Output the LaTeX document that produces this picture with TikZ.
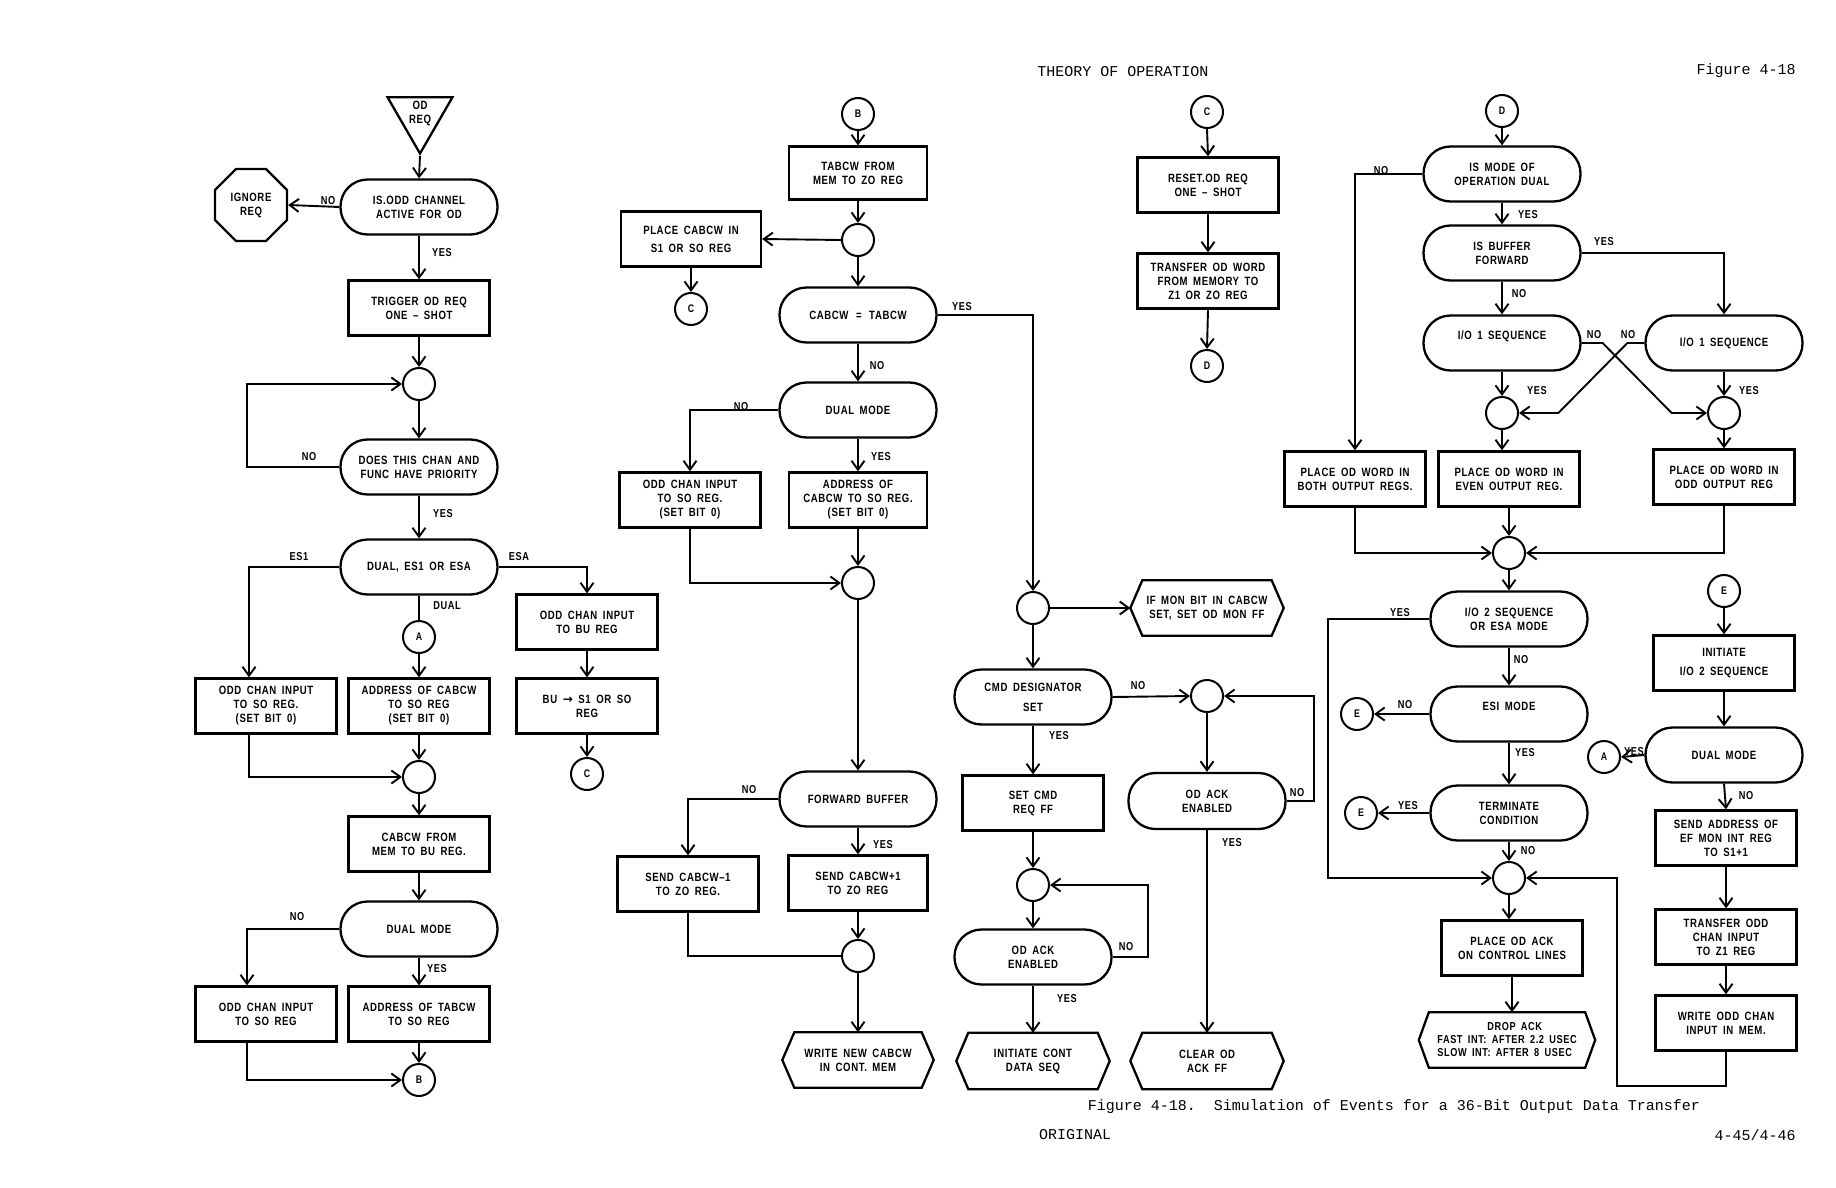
\documentclass[tikz,border=0pt]{standalone}
\usepackage{fontspec}
\setmainfont{Liberation Sans}
\newfontfamily\lfont[FakeStretch=0.8,LetterSpace=5,WordSpace=1.7]{Liberation Sans}
\newfontfamily\afont{DejaVu Sans}
\newfontfamily\cfont{Liberation Mono}
\usetikzlibrary{arrows.meta,shapes.geometric}
\newcommand\hexfr[2]{\draw[line width=2.3pt] ([xshift=#2]#1.north west) -- ([xshift=-#2]#1.north east) -- (#1.east) -- ([xshift=-#2]#1.south east) -- ([xshift=#2]#1.south west) -- (#1.west) -- cycle;}
\tikzset{
 box/.style={draw, line width=2.3pt, rectangle, minimum width=141pt, minimum height=55pt, align=center, inner sep=2pt, font=\lfont\bfseries\fontsize{12}{14}\selectfont},
 dec/.style={box, rounded corners=27pt, minimum width=157pt},
 conn/.style={draw, circle, line width=2pt, minimum size=32pt, inner sep=0pt, font=\lfont\bfseries\fontsize{11}{12}\selectfont},
 junc/.style={draw, circle, line width=2pt, minimum size=32pt, inner sep=0pt},
 hexa/.style={rectangle, minimum width=153pt, minimum height=55pt, align=center, inner sep=2pt, font=\lfont\bfseries\fontsize{12}{14}\selectfont},
 arr/.style={line width=1.9pt, -{Straight Barb[length=9pt,width=13pt,line width=1.9pt]}},
 ln/.style={line width=1.9pt},
 lab/.style={font=\lfont\bfseries\fontsize{11.5}{13}\selectfont, inner sep=0pt},
 pg/.style={font=\cfont\fontsize{15}{17}\selectfont, inner sep=0pt},
}
\begin{document}
\begin{tikzpicture}[x=1pt,y=-1pt]
\useasboundingbox[fill=white] (0,0) rectangle (1836,1188);
% ---------- page texts
\node[pg] (hdr) at (1123,72) {THEORY OF OPERATION};
\node[pg] (fig) at (1746,71) {Figure 4-18};
\node[pg] (cap) at (1394,1107) {Figure 4-18.\ \ Simulation of Events for a 36-Bit Output Data Transfer};
\node[pg] (orig) at (1075,1135) {ORIGINAL};
\node[pg] (pgno) at (1755,1135) {4-45/4-46};
% ---------- column 1
\node[draw, regular polygon, regular polygon sides=3, shape border rotate=180, minimum size=75pt, inner sep=0pt, line width=2.3pt] (odreq) at (420,116) {};
\node[lab, align=center, font=\lfont\bfseries\fontsize{12}{14}\selectfont] (odreqt) at (420,113) {OD\\REQ};
\node[dec] (d1) at (419,207) {IS.ODD CHANNEL\\ACTIVE FOR OD};
\node[draw, regular polygon, regular polygon sides=8, minimum size=78pt, inner sep=0pt, line width=2.3pt, align=center, font=\lfont\bfseries\fontsize{12}{14}\selectfont] (ign) at (251,205) {IGNORE\\REQ};
\node[box] (b1) at (419,308) {TRIGGER OD REQ\\ONE – SHOT};
\node[junc] (j1) at (419,384) {};
\node[dec] (d2) at (419,467) {DOES THIS CHAN AND\\FUNC HAVE PRIORITY};
\node[dec] (d3) at (419,567) {DUAL, ES1 OR ESA};
\node[conn] (cA1) at (419,637) {A};
\node[box] (b2) at (266,706) {ODD CHAN INPUT\\TO SO REG.\\(SET BIT 0)};
\node[box] (b3) at (419,706) {ADDRESS OF CABCW\\TO SO REG\\(SET BIT 0)};
\node[box] (b4) at (587,622) {ODD CHAN INPUT\\TO BU REG};
\node[box] (b5) at (587,706) {BU {\afont\bfseries →} S1 OR SO\\REG};
\node[conn] (cC1) at (587,774) {C};
\node[junc] (j2) at (419,777) {};
\node[box] (b6) at (419,844) {CABCW FROM\\MEM TO BU REG.};
\node[dec] (d4) at (419,929) {DUAL MODE};
\node[box] (b7) at (266,1014) {ODD CHAN INPUT\\TO SO REG};
\node[box] (b8) at (419,1014) {ADDRESS OF TABCW\\TO SO REG};
\node[conn] (cB1) at (419,1080) {B};
% ---------- column 2
\node[conn] (cB2) at (858,114) {B};
\node[box, minimum width=138pt, minimum height=53pt] (b9) at (858,173) {TABCW FROM\\MEM TO ZO REG};
\node[junc] (j3) at (858,240) {};
\node[box, minimum width=140pt] (b10) at (691,239) {PLACE CABCW IN\\[4pt]S1 OR SO REG};
\node[conn] (cC2) at (691,309) {C};
\node[dec] (d5) at (858,315) {CABCW \,=\, TABCW};
\node[dec] (d6) at (858,410) {DUAL MODE};
\node[box] (b11) at (690,500) {ODD CHAN INPUT\\TO SO REG.\\(SET BIT 0)};
\node[box, minimum width=138pt] (b12) at (858,500) {ADDRESS OF\\CABCW TO SO REG.\\(SET BIT 0)};
\node[junc] (j4) at (858,583) {};
\node[dec] (d7) at (858,799) {FORWARD BUFFER};
\node[box] (b13) at (688,884) {SEND CABCW–1\\TO ZO REG.};
\node[box, minimum width=139pt] (b14) at (858,883) {SEND CABCW+1\\TO ZO REG};
\node[junc] (j5) at (858,956) {};
\node[hexa, minimum width=151pt] (h1) at (858,1060) {WRITE NEW CABCW\\IN CONT. MEM};
\hexfr{h1}{12}
% ---------- column 3
\node[conn] (cC3) at (1207,112) {C};
\node[box] (b16) at (1208,185) {RESET.OD REQ\\ONE – SHOT};
\node[box] (b17) at (1208,281) {TRANSFER OD WORD\\FROM MEMORY TO\\Z1 OR ZO REG};
\node[conn] (cD1) at (1207,366) {D};
\node[junc] (j6) at (1033,608) {};
\node[hexa] (h2) at (1207,608) {IF MON BIT IN CABCW\\SET, SET OD MON FF};
\hexfr{h2}{12}
\node[dec] (d8) at (1033,697) {CMD DESIGNATOR\\[6pt]SET};
\node[junc] (j7) at (1207,696) {};
\node[box] (b15) at (1033,803) {SET CMD\\REQ FF};
\node[junc] (j8) at (1033,885) {};
\node[dec] (d9) at (1033,957) {OD ACK\\ENABLED};
\node[hexa, minimum height=56pt] (h3) at (1033,1061) {INITIATE CONT\\DATA SEQ};
\hexfr{h3}{12}
\node[dec, minimum height=56pt] (d10) at (1207,801) {OD ACK\\ENABLED};
\node[hexa, minimum height=56pt] (h4) at (1207,1061) {CLEAR OD\\ACK FF};
\hexfr{h4}{12}
% ---------- column 4
\node[conn] (cD2) at (1502,111) {D};
\node[dec] (d11) at (1502,174) {IS MODE OF\\OPERATION DUAL};
\node[dec] (d12) at (1502,253) {IS BUFFER\\FORWARD};
\node[dec] (d13) at (1502,343) {I/O 1 SEQUENCE\\[2pt]\mbox{}};
\node[dec] (d14) at (1724,343) {I/O 1 SEQUENCE};
\node[junc] (j9) at (1502,413) {};
\node[junc] (j12) at (1724,413) {};
\node[box] (b18) at (1355,479) {PLACE OD WORD IN\\BOTH OUTPUT REGS.};
\node[box] (b19) at (1509,479) {PLACE OD WORD IN\\EVEN OUTPUT REG.};
\node[box] (b20) at (1724,477) {PLACE OD WORD IN\\ODD OUTPUT REG};
\node[junc] (j10) at (1509,553) {};
\node[dec] (d15) at (1509,619) {I/O 2 SEQUENCE\\OR ESA MODE};
\node[dec] (d16) at (1509,714) {ESI MODE\\[2pt]\mbox{}};
\node[conn] (cE1) at (1357,714) {E};
\node[dec] (d17) at (1509,813) {TERMINATE\\CONDITION};
\node[conn] (cE2) at (1361,813) {E};
\node[junc] (j11) at (1509,878) {};
\node[box] (b21) at (1512,948) {PLACE OD ACK\\ON CONTROL LINES};
\node[hexa, minimum width=176pt, align=left, font=\lfont\bfseries\fontsize{11.5}{13}\selectfont] (h5) at (1507,1040) {\hspace*{50pt}DROP ACK\\FAST INT: AFTER 2.2 USEC\\SLOW INT: AFTER 8 USEC};
\hexfr{h5}{10}
\node[conn] (cE3) at (1724,591) {E};
\node[box] (b22) at (1724,663) {INITIATE\\[5pt]I/O 2 SEQUENCE};
\node[dec] (d18) at (1724,755) {DUAL MODE};
\node[conn] (cA2) at (1604,757) {A};
\node[box] (b23) at (1726,838) {SEND ADDRESS OF\\EF MON INT REG\\TO S1+1};
\node[box] (b24) at (1726,937) {TRANSFER ODD\\CHAN INPUT\\TO Z1 REG};
\node[box] (b25) at (1726,1023) {WRITE ODD CHAN\\INPUT IN MEM.};
\coordinate (k1) at (1617,1086);
% ---------- connectors column 1
\draw[arr] (odreq.south) -- (d1.north);
\draw[arr] (d1.west) -- (ign.east);
\draw[arr] (d1.south) -- (b1.north);
\draw[arr] (b1.south) -- (j1.north);
\draw[arr] (j1.south) -- (d2.north);
\draw[arr] (d2.west) -- ++(-92,0) |- (j1.west);
\draw[arr] (d2.south) -- (d3.north);
\draw[arr] (d3.west) -| ([xshift=-17pt]b2.north);
\draw[arr] (d3.east) -| (b4.north);
\draw[ln] (d3.south) -- (cA1.north);
\draw[arr] (cA1.south) -- (b3.north);
\draw[arr] (b3.south) -- (j2.north);
\draw[arr] ([xshift=-17pt]b2.south) |- (j2.west);
\draw[arr] (b4.south) -- (b5.north);
\draw[arr] (b5.south) -- (cC1.north);
\draw[arr] (j2.south) -- (b6.north);
\draw[arr] (b6.south) -- (d4.north);
\draw[arr] (d4.west) -| ([xshift=-19pt]b7.north);
\draw[arr] (d4.south) -- (b8.north);
\draw[arr] (b8.south) -- (cB1.north);
\draw[arr] ([xshift=-19pt]b7.south) |- (cB1.west);
% ---------- connectors column 2
\draw[arr] (cB2.south) -- (b9.north);
\draw[arr] (b9.south) -- (j3.north);
\draw[arr] (j3.west) -- (b10.east);
\draw[arr] (b10.south) -- (cC2.north);
\draw[arr] (j3.south) -- (d5.north);
\draw[arr] (d5.east) -| (j6.north);
\draw[arr] (d5.south) -- (d6.north);
\draw[arr] (d6.west) -| (b11.north);
\draw[arr] (d6.south) -- (b12.north);
\draw[arr] (b12.south) -- (j4.north);
\draw[arr] (b11.south) |- (j4.west);
\draw[arr] (j4.south) -- (d7.north);
\draw[arr] (d7.west) -| (b13.north);
\draw[arr] (d7.south) -- (b14.north);
\draw[arr] (b14.south) -- (j5.north);
\draw[ln] (b13.south) |- (j5.west);
\draw[arr] (j5.south) -- (h1.north);
% ---------- connectors column 3
\draw[arr] (cC3.south) -- (b16.north);
\draw[arr] (b16.south) -- (b17.north);
\draw[arr] (b17.south) -- (cD1.north);
\draw[arr] (j6.east) -- (h2.west);
\draw[arr] (j6.south) -- (d8.north);
\draw[arr] (d8.east) -- (j7.west);
\draw[arr] (d8.south) -- (b15.north);
\draw[arr] (b15.south) -- (j8.north);
\draw[arr] (j8.south) -- (d9.north);
\draw[arr] (d9.east) -- ++(35,0) |- (j8.east);
\draw[arr] (d9.south) -- (h3.north);
\draw[arr] (j7.south) -- (d10.north);
\draw[arr] (d10.east) -- ++(27,0) |- (j7.east);
\draw[arr] (d10.south) -- (h4.north);
% ---------- connectors column 4
\draw[arr] (cD2.south) -- (d11.north);
\draw[arr] (d11.west) -| (b18.north);
\draw[arr] (d11.south) -- (d12.north);
\draw[arr] (d12.east) -| (d14.north);
\draw[arr] (d12.south) -- (d13.north);
\draw[arr] (d13.south) -- (j9.north);
\draw[arr] (d14.south) -- (j12.north);
\draw[arr] (d13.east) -- ++(21,0) -- ++(69,70) -- (j12.west);
\draw[arr] (d14.west) -- ++(-17,0) -- ++(-69,70) -- (j9.east);
\draw[arr] (j9.south) -- (j9.south |- b19.north);
\draw[arr] (j12.south) -- (b20.north);
\draw[arr] (b18.south) |- (j10.west);
\draw[arr] (b19.south) -- (j10.north);
\draw[arr] (b20.south) |- (j10.east);
\draw[arr] (j10.south) -- (d15.north);
\draw[arr] (d15.west) -- ++(-101,0) |- (j11.west);
\draw[arr] (d15.south) -- (d16.north);
\draw[arr] (d16.west) -- (cE1.east);
\draw[arr] (d16.south) -- (d17.north);
\draw[arr] (d17.west) -- (cE2.east);
\draw[arr] (d17.south) -- (j11.north);
\draw[arr] (j11.south) -- (j11.south |- b21.north);
\draw[arr] (b21.south) -- (b21.south |- h5.north);
\draw[arr] (cE3.south) -- (b22.north);
\draw[arr] (b22.south) -- (d18.north);
\draw[arr] (d18.west) -- (cA2.east);
\draw[arr] (d18.south) -- (b23.north);
\draw[arr] (b23.south) -- (b24.north);
\draw[arr] (b24.south) -- (b25.north);
\draw[arr] (b25.south) |- (k1) |- (j11.east);
% ---------- branch labels
\node[lab] (l1) at (328,201) {NO};
\node[lab] (l2) at (442,253) {YES};
\node[lab] (l3) at (309,457) {NO};
\node[lab] (l4) at (443,514) {YES};
\node[lab] (l5) at (299,557) {ES1};
\node[lab] (l6) at (519,557) {ESA};
\node[lab] (l7) at (447,606) {DUAL};
\node[lab] (l8) at (297,917) {NO};
\node[lab] (l9) at (437,969) {YES};
\node[lab] (l10) at (962,307) {YES};
\node[lab] (l11) at (877,366) {NO};
\node[lab] (l12) at (741,407) {NO};
\node[lab] (l13) at (881,457) {YES};
\node[lab] (l14) at (749,790) {NO};
\node[lab] (l15) at (883,845) {YES};
\node[lab] (l16) at (1138,686) {NO};
\node[lab] (l17) at (1059,736) {YES};
\node[lab] (l18) at (1126,947) {NO};
\node[lab] (l19) at (1067,999) {YES};
\node[lab] (l20) at (1297,793) {NO};
\node[lab] (l21) at (1232,843) {YES};
\node[lab] (l22) at (1381,171) {NO};
\node[lab] (l23) at (1528,215) {YES};
\node[lab] (l24) at (1604,242) {YES};
\node[lab] (l25) at (1519,294) {NO};
\node[lab] (l26) at (1594,335) {NO};
\node[lab] (l27) at (1628,335) {NO};
\node[lab] (l28) at (1537,391) {YES};
\node[lab] (l29) at (1749,391) {YES};
\node[lab] (l30) at (1400,613) {YES};
\node[lab] (l31) at (1521,660) {NO};
\node[lab] (l32) at (1405,705) {NO};
\node[lab] (l33) at (1525,753) {YES};
\node[lab] (l34) at (1408,806) {YES};
\node[lab] (l35) at (1528,851) {NO};
\node[lab] (l36) at (1634,752) {YES};
\node[lab] (l37) at (1746,796) {NO};
\end{tikzpicture}
\end{document}
